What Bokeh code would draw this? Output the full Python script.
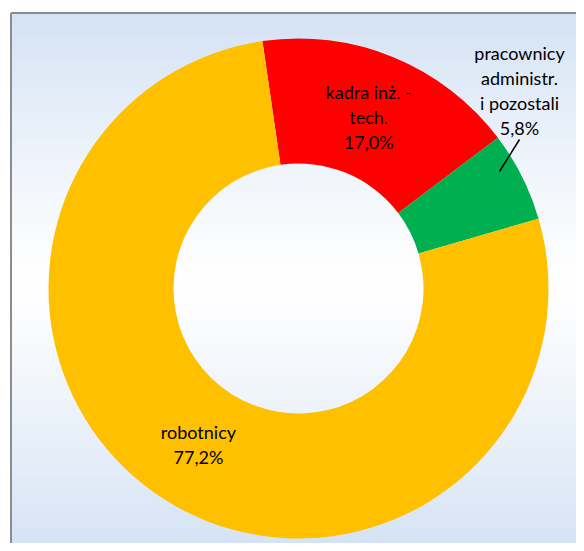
import numpy as np
from bokeh.plotting import figure
from bokeh.models import Range1d
from bokeh.core.properties import value
from bokeh.embed import file_html
from bokeh.resources import INLINE

# ---- data ----
categories = ["kadra inż. - tech.", "pracownicy administr. i pozostali", "robotnicy"]
shares = [17.0, 5.8, 77.2]
colors = ["#FF0000", "#00B050", "#FFC000"]
label_lines = [["kadra inż. -", "tech.", "17,0%"],
               ["pracownicy", "administr.", "i pozostali", "5,8%"],
               ["robotnicy", "77,2%"]]

# ---- layout constants (picture pixel coords -> figure coords) ----
W, H = 576, 543
OFF = 0
def fx(x): return x - OFF
def fy(y): return -(y - OFF)

CX, CY = fx(298), fy(288)
R_OUT, R_IN = 250, 125
FIRST_ANGLE = -8.3  # degrees clockwise from 12 o'clock
FONT = value("Lato")
FSIZE = "18px"
LINE_H = 25

p = figure(width=W, height=H, output_backend="svg", toolbar_location=None,
           x_range=Range1d(0, W), y_range=Range1d(-H, 0), min_border=0)
p.axis.visible = False
p.grid.visible = False
p.outline_line_color = None
p.background_fill_color = "white"
p.border_fill_color = "white"

# gradient background of chart area
top_c = np.array([198, 217, 241])
mid_c = np.array([255, 255, 255])
y0, y1 = 13, 551
ymid = (y0 + y1) / 2
bands_top, bands_bot, bands_col = [], [], []
for yy in range(y0, y1):
    t = abs(yy + 0.5 - ymid) / (ymid - y0)
    t = min(1.0, t) ** 1.2
    c = (mid_c * (1 - t) + top_c * t).astype(int)
    bands_top.append(fy(yy))
    bands_bot.append(fy(yy + 1))
    bands_col.append("#%02x%02x%02x" % tuple(c))
p.quad(left=fx(10), right=W, top=bands_top, bottom=bands_bot,
       fill_color=bands_col, line_color=None)
# frame
p.segment(x0=[fx(10.5), fx(10.5)], y0=[fy(12.5), fy(12.5)], x1=[fx(10.5), W], y1=[-H, fy(12.5)],
          line_color="#8C8C8C", line_width=2)

# donut
cum = np.cumsum([0] + shares[:-1]) / 100 * 360 + FIRST_ANGLE
ends = cum + np.array(shares) / 100 * 360
start_rad = np.radians(90 - cum)
end_rad = np.radians(90 - ends)
p.annular_wedge(x=CX, y=CY, inner_radius=R_IN, outer_radius=R_OUT,
                start_angle=start_rad, end_angle=end_rad, direction="clock",
                fill_color=colors, line_color=None)

# labels
mid_deg = (cum + ends) / 2
xs, ys, txt = [], [], []
r_lab = 185
for i, lines in enumerate(label_lines):
    if i == 1:
        lx, ly = fx(519), fy(90)
    else:
        a = np.radians(mid_deg[i])
        lx = CX + r_lab * np.sin(a)
        ly = CY + r_lab * np.cos(a)
    n = len(lines)
    for k, s in enumerate(lines):
        xs.append(lx)
        ys.append(ly + ((n - 1) / 2 - k) * LINE_H)
        txt.append(s)
p.text(x=xs, y=ys, text=txt, text_align="center", text_baseline="middle",
       text_font=FONT, text_font_size=FSIZE, text_color="#000000")

# leader line for the small slice
p.segment(x0=[fx(519)], y0=[fy(139)], x1=[fx(499)], y1=[fy(171)],
          line_color="black", line_width=1.5)

open("out.html", "w").write(file_html(p, INLINE))
